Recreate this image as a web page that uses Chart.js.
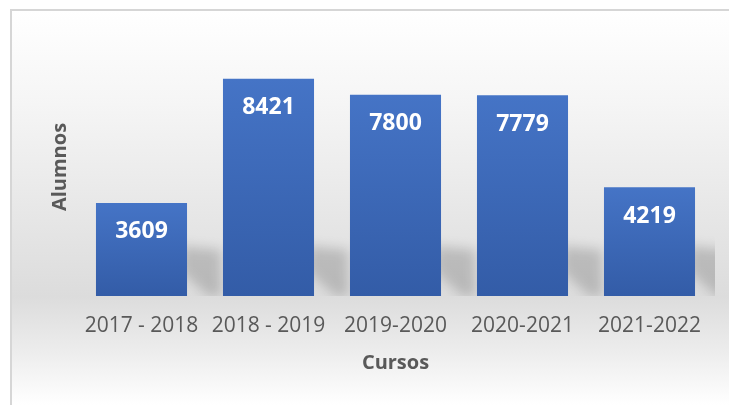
<!DOCTYPE html>
<html>
<head>
<meta charset="utf-8">
<script src="https://cdn.jsdelivr.net/npm/chart.js@4/dist/chart.umd.min.js"></script>
<style>
  html, body { margin: 0; padding: 0; background: #ffffff; }
  #wrap { width: 729px; height: 405px; position: relative; }
</style>
</head>
<body>
<div id="wrap"><canvas id="c" width="729" height="405"></canvas></div>
<script>
// Alumnos matriculados por curso académico
const cursos = ['2017 - 2018', '2018 - 2019', '2019-2020', '2020-2021', '2021-2022'];
const alumnos = [3609, 8421, 7800, 7779, 4219];

const TEXT = '#595959';
const FONT = "'Open Sans', 'Liberation Sans', sans-serif";

// Panel background with soft grey gradient and thin frame
const panelBackground = {
  id: 'panelBackground',
  beforeDraw(chart) {
    const ctx = chart.ctx;
    ctx.save();
    ctx.fillStyle = '#ffffff';
    ctx.fillRect(0, 0, chart.width, chart.height);
    const g = ctx.createLinearGradient(0, 10, 0, chart.height);
    g.addColorStop(0, '#ffffff');
    g.addColorStop(0.22, '#f6f6f6');
    g.addColorStop(0.725, '#dcdcdc');
    g.addColorStop(0.86, '#ececec');
    g.addColorStop(1, '#ffffff');
    ctx.fillStyle = g;
    ctx.fillRect(11, 10, chart.width - 11, chart.height - 10);
    ctx.strokeStyle = '#d6d6d6';
    ctx.lineWidth = 2;
    ctx.beginPath();
    ctx.moveTo(11, chart.height);
    ctx.lineTo(11, 10);
    ctx.lineTo(chart.width, 10);
    ctx.stroke();
    ctx.restore();
  }
};

// Perspective shadow cast behind each bar, kept inside the plot area
const barShadows = {
  id: 'barShadows',
  beforeDatasetsDraw(chart) {
    const ctx = chart.ctx;
    const area = chart.chartArea;
    const meta = chart.getDatasetMeta(0);
    ctx.save();
    ctx.beginPath();
    ctx.rect(area.left, area.top, area.right - area.left + 2, area.bottom - area.top);
    ctx.clip();
    ctx.filter = 'blur(6px)';
    ctx.fillStyle = 'rgba(0,0,0,0.17)';
    meta.data.forEach(bar => {
      const right = bar.x + bar.width / 2;
      const base = bar.base;
      const h = Math.min(50, base - bar.y);
      ctx.beginPath();
      ctx.moveTo(right - 6, base - h);
      ctx.lineTo(right + 34, base - h + 4);
      ctx.lineTo(right + 34, base);
      ctx.lineTo(right + 22, base);
      ctx.lineTo(right - 6, base - 24);
      ctx.closePath();
      ctx.fill();
    });
    ctx.restore();
  }
};

// Value written inside the top of each bar
const barValues = {
  id: 'barValues',
  afterDatasetsDraw(chart) {
    const ctx = chart.ctx;
    const meta = chart.getDatasetMeta(0);
    ctx.save();
    ctx.fillStyle = '#ffffff';
    ctx.font = `bold 23px ${FONT}`;
    ctx.textAlign = 'center';
    ctx.textBaseline = 'middle';
    meta.data.forEach((bar, i) => {
      ctx.fillText(String(alumnos[i]), bar.x, bar.y + 29);
    });
    ctx.restore();
  }
};

function barFill(context) {
  const chart = context.chart;
  const y = chart.scales.y;
  if (!y || context.parsed == null) return '#4472c4';
  const top = y.getPixelForValue(context.parsed.y);
  const bottom = y.getPixelForValue(0);
  if (!isFinite(top) || !isFinite(bottom) || top === bottom) return '#4472c4';
  const g = chart.ctx.createLinearGradient(0, top, 0, bottom);
  g.addColorStop(0, '#4574c6');
  g.addColorStop(1, '#335ca7');
  return g;
}

new Chart(document.getElementById('c'), {
  type: 'bar',
  data: {
    labels: cursos,
    datasets: [{
      label: 'Alumnos',
      data: alumnos,
      backgroundColor: barFill,
      borderWidth: 0,
      categoryPercentage: 1,
      barPercentage: 0.717
    }]
  },
  options: {
    responsive: false,
    animation: false,
    layout: { padding: { left: 44, right: 16, top: 38, bottom: 26 } },
    plugins: {
      legend: { display: false },
      tooltip: { enabled: false }
    },
    scales: {
      x: {
        grid: { display: false, drawTicks: false },
        border: { display: false },
        ticks: { color: TEXT, font: { family: FONT, size: 21 }, padding: 17, maxRotation: 0, autoSkip: false },
        title: { display: true, text: 'Cursos', color: TEXT, font: { family: FONT, size: 20, weight: 'bold' } },
        afterFit(s) { s.height = 83; }
      },
      y: {
        min: 0,
        max: 10000,
        grid: { display: false, drawTicks: false },
        border: { display: false },
        ticks: { display: false },
        title: { display: true, text: 'Alumnos', color: TEXT, font: { family: FONT, size: 20, weight: 'bold' } },
        afterFit(s) { s.width = 34; }
      }
    }
  },
  plugins: [panelBackground, barShadows, barValues]
});
</script>
</body>
</html>
